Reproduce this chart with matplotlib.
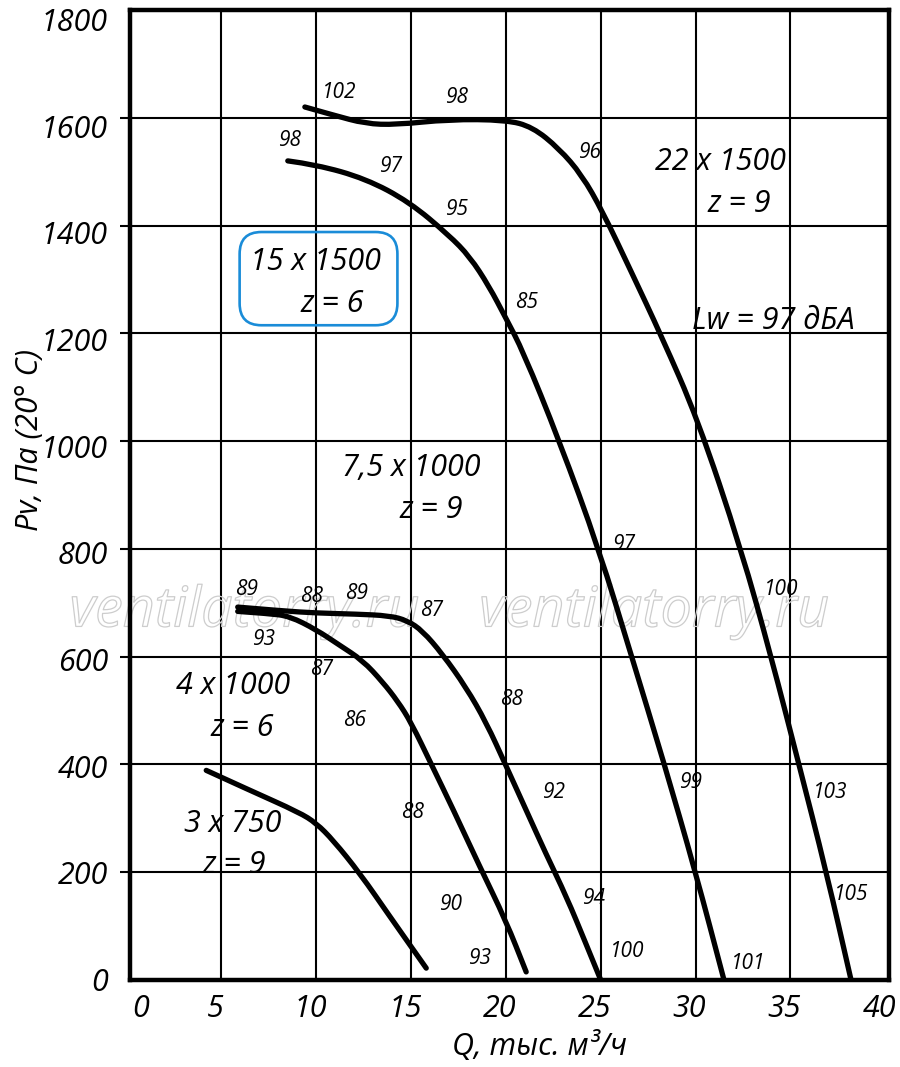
import matplotlib
matplotlib.use("Agg")
import matplotlib.pyplot as plt
import matplotlib.patheffects as pe
from matplotlib.patches import FancyBboxPatch, PathPatch
from matplotlib.path import Path

# fan curves: Q (thousand m3/h) vs Pv (Pa)
q_22x1500 = [9.4, 10.9, 12.6, 14.2, 17.0, 20.0, 21.4, 22.8, 24.0, 25.1, 26.6, 28.2, 30.1, 32.4, 34.0, 35.4, 36.9, 38.2]
p_22x1500 = [1620, 1605, 1589, 1587, 1597, 1596, 1583, 1543, 1494, 1426, 1315, 1195, 1042, 800, 598, 407, 200, 0]

q_15x1500 = [8.5, 10.0, 12.6, 14.9, 17.0, 18.1, 19.1, 20.0, 20.9, 22.8, 24.9, 26.65, 28.3, 30.0, 31.5]
p_15x1500 = [1520, 1513, 1487, 1444, 1382, 1342, 1288, 1228, 1167, 1002, 800, 598, 407, 200, 0]

q_75x1000 = [5.86, 8.2, 10.0, 12.1, 13.86, 14.8, 15.6, 16.65, 17.9, 18.96, 20.0, 21.07, 22.1, 23.2, 24.2, 25.0]
p_75x1000 = [692, 685, 681, 679, 676, 667, 648, 605, 543, 478, 398, 315, 235, 154, 69, 0]

q_4x1000 = [5.86, 7.5, 8.6, 10.0, 11.2, 12.45, 13.5, 14.3, 15.0, 16.1, 17.2, 18.6, 20.0, 21.07]
p_4x1000 = [684, 680, 675, 650, 622, 593, 553, 517, 478, 398, 318, 212, 110, 15]

q_3x750 = [4.2, 6.5, 9.1, 10.0, 10.9, 12.3, 13.9, 15.0, 15.8]
p_3x750 = [389, 352, 311, 291, 259, 198, 117, 62, 22]

# sound power labels along the curves
lbl_text = ["102", "98", "96", "98", "97", "95", "85", "97", "100",
            "89", "88", "89", "87", "93", "87", "86", "88", "92", "99", "103",
            "88", "90", "93", "94", "100", "101", "105"]
lbl_q = [11.2, 17.4, 24.4, 8.6, 13.9, 17.4, 21.1, 26.2, 34.5,
         6.3, 9.75, 12.1, 16.1, 7.2, 10.3, 12.0, 20.3, 22.5, 29.75, 37.1,
         15.1, 17.1, 18.6, 24.6, 26.4, 32.8, 38.2]
lbl_p = [1646, 1638, 1536, 1558, 1510, 1430, 1258, 808, 725,
         725, 712, 718, 685, 632, 576, 482, 520, 348, 367, 348,
         311, 141, 39, 152, 53, 30, 158]

x_ticks = [0, 5, 10, 15, 20, 25, 30, 35, 40]
y_ticks = [0, 200, 400, 600, 800, 1000, 1200, 1400, 1600, 1800]

plt.rcParams['font.family'] = ['Open Sans', 'DejaVu Sans']
FS = dict(style='italic')


def smooth_path(q, p):
    # quadratic bezier through the midpoints, read points act as control points
    verts = [(q[0], p[0])]
    codes = [Path.MOVETO]
    for i in range(1, len(q) - 1):
        verts += [(q[i], p[i]), ((q[i] + q[i + 1]) / 2, (p[i] + p[i + 1]) / 2)]
        codes += [Path.CURVE3, Path.CURVE3]
    verts.append((q[-1], p[-1]))
    codes.append(Path.LINETO)
    return Path(verts, codes)


fig = plt.figure(figsize=(9, 10.67), dpi=100)
ax = fig.add_axes([130 / 900, 87 / 1067, 759 / 900, 970 / 1067])
ax.set_xlim(0.18, 40.2)
ax.set_ylim(0, 1800)

ax.set_xticks(x_ticks[1:-1])
ax.set_yticks(y_ticks[1:-1])
ax.grid(True, color='black', linewidth=1.5)
ax.set_axisbelow(True)
ax.tick_params(axis='y', direction='out', length=7, width=1.5, labelleft=False)
ax.tick_params(axis='x', length=0, labelbottom=False)
for s in ax.spines.values():
    s.set_linewidth(3.2)

# tick labels
for v in x_ticks:
    xv = 1.05 if v == 0 else v
    ax.annotate(str(v), (xv, 0), xytext=(-6, -29), textcoords='offset pixels',
                ha='center', va='center', fontsize=22, annotation_clip=False, **FS)
for v in y_ticks:
    ax.annotate(str(v), (0.18, v), xytext=(-22, -3 - 10 * v / 1800), textcoords='offset pixels',
                ha='right', va='center', fontsize=22, annotation_clip=False, **FS)

fig.text(540 / 900, 1 - 1047 / 1067, "Q, тыс. м³/ч", fontsize=22, ha='center', va='center', **FS)
fig.text(30 / 900, 1 - 440 / 1067, "Pv, Па (20° C)", fontsize=22, ha='center', va='center',
         rotation=90, **FS)

# watermark
for xc in [6.2, 27.8]:
    ax.text(xc, 683, "ventilatorry.ru", fontsize=40, color=(1, 1, 1, 0), ha='center', va='center',
            style='italic', zorder=1,
            path_effects=[pe.Stroke(linewidth=0.9, foreground='#cdcdcd')])

curves = [(q_22x1500, p_22x1500), (q_15x1500, p_15x1500), (q_75x1000, p_75x1000),
          (q_4x1000, p_4x1000), (q_3x750, p_3x750)]
for q, p in curves:
    ax.add_patch(PathPatch(smooth_path(q, p), fill=False, edgecolor='black', linewidth=3.8,
                           capstyle='round', joinstyle='round', zorder=3))

for t, q, p in zip(lbl_text, lbl_q, lbl_p):
    ax.text(q, p, t, fontsize=15, ha='center', va='center', zorder=4, **FS)

# fan size labels
big = [("22 x 1500", 31.3, 1518), ("z = 9", 32.3, 1440),
       ("15 x 1500", 9.95, 1333), ("z = 6", 10.85, 1255),
       ("Lw = 97 дБА", 34.1, 1223),
       ("7,5 x 1000", 15.0, 950), ("z = 9", 16.05, 872),
       ("4 x 1000", 5.6, 545), ("z = 6", 6.1, 467),
       ("3 x 750", 5.6, 289), ("z = 9", 5.65, 213)]
for t, q, p in big:
    ax.text(q, p, t, fontsize=22, ha='center', va='center', zorder=4, **FS)

aspect = (200 / 107.8) / (1 / 19)
box = FancyBboxPatch((5.96, 1215), 8.32, 173, boxstyle="round,pad=0,rounding_size=1.15",
                     mutation_aspect=aspect, fill=False, edgecolor='#1a8cd8',
                     linewidth=1.9, zorder=4)
ax.add_patch(box)

fig.savefig("out.png", dpi=100)
